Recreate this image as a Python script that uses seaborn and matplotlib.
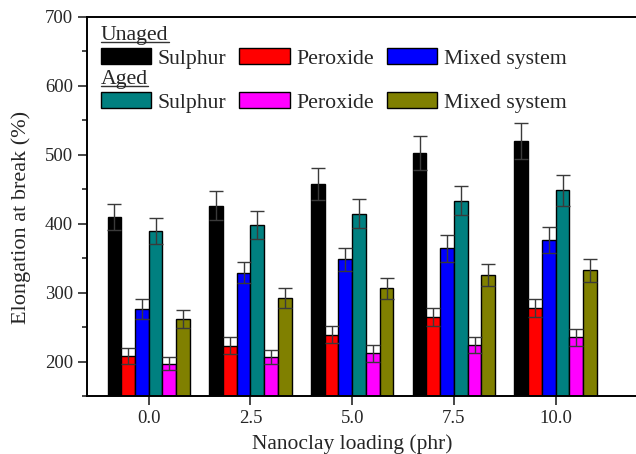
# coding: utf-8

import numpy as np
import pandas as pd
import matplotlib
matplotlib.use("Agg")
import matplotlib.pyplot as plt
from matplotlib.ticker import AutoMinorLocator
from matplotlib.patches import Patch
from matplotlib.lines import Line2D
import seaborn as sns

sns.set_style("ticks")
plt.rcParams['font.family'] = ['Liberation Serif', 'DejaVu Serif']

loadings = ['0.0', '2.5', '5.0', '7.5', '10.0']
series = ['Unaged Sulphur', 'Unaged Peroxide', 'Unaged Mixed system',
          'Aged Sulphur', 'Aged Peroxide', 'Aged Mixed system']
colors = ['#000000', '#ff0000', '#0000ff', '#008080', '#ff00ff', '#808000']

unaged_sulphur = [409, 426, 457, 502, 520]
unaged_peroxide = [208, 223, 239, 264, 277]
unaged_mixed = [276, 329, 348, 364, 376]
aged_sulphur = [389, 398, 414, 433, 448]
aged_peroxide = [197, 206, 212, 224, 235]
aged_mixed = [262, 292, 306, 325, 332]

unaged_sulphur_err = [19, 21, 23, 25, 26]
unaged_peroxide_err = [11, 12, 12, 13, 13]
unaged_mixed_err = [14, 15, 17, 19, 19]
aged_sulphur_err = [19, 20, 21, 21, 22]
aged_peroxide_err = [10, 10, 12, 11, 12]
aged_mixed_err = [13, 15, 15, 16, 16]

values = [unaged_sulphur, unaged_peroxide, unaged_mixed,
          aged_sulphur, aged_peroxide, aged_mixed]
errors = [unaged_sulphur_err, unaged_peroxide_err, unaged_mixed_err,
          aged_sulphur_err, aged_peroxide_err, aged_mixed_err]

rows = []
for s, vals in zip(series, values):
    for l, v in zip(loadings, vals):
        rows.append({'loading': l, 'series': s, 'elong': v})
df = pd.DataFrame(rows)

fig = plt.figure(figsize=(6.36, 4.54), dpi=100)
ax = fig.add_axes([86.7 / 636, 58 / 454, (650 - 86.7) / 636, 379.3 / 454])

sns.barplot(ax=ax, data=df, x='loading', y='elong', hue='series',
            order=loadings, hue_order=series, palette=colors,
            width=0.81, errorbar=None, edgecolor='black', linewidth=1,
            saturation=1, legend=False)

# error bars on top of each bar
for cont, errs in zip(ax.containers, errors):
    xs = [b.get_x() + b.get_width() / 2 for b in cont]
    hs = [b.get_height() for b in cont]
    ax.errorbar(xs, hs, yerr=errs, fmt='none', ecolor='#3a3a3a',
                elinewidth=1, capsize=5, capthick=1)

ax.set_ylim(150, 700)
ax.set_xlim(-0.61, 4.927)
ax.set_yticks([200, 300, 400, 500, 600, 700])
ax.yaxis.set_minor_locator(AutoMinorLocator(2))
ax.tick_params(axis='both', which='major', labelsize=13.5, length=6.5, width=1.2)
ax.tick_params(axis='y', which='minor', length=3.5, width=1.2)
ax.set_xlabel('Nanoclay loading (phr)', fontsize=15.5)
ax.set_ylabel('Elongation at break (%)', fontsize=16)
ax.xaxis.set_label_coords((352 - 86.7) / (650 - 86.7), -0.1)
ax.yaxis.set_label_coords(-0.098, 0.47)
for sp in ax.spines.values():
    sp.set_linewidth(1.4)
    sp.set_color('black')

# legend: two groups with underlined titles
def make_legend(title, cols, y):
    labels = ['Sulphur', 'Peroxide', 'Mixed system']
    handles = [Patch(facecolor=c, edgecolor='black', linewidth=1) for c in cols]
    leg = fig.legend(handles, labels, ncol=3, loc='upper left',
                     bbox_to_anchor=(101 / 636, 1 - y / 454),
                     frameon=False, fontsize=15.7, title=title,
                     title_fontsize=15.7, alignment='left',
                     handlelength=2.3, handleheight=0.72, handletextpad=0.3,
                     columnspacing=0.6, borderpad=0, borderaxespad=0,
                     labelspacing=0.15)
    return leg

legs = [make_legend('Unaged', colors[:3], 26),
        make_legend('Aged', colors[3:], 70)]

fig.canvas.draw()
for leg in legs:
    bb = leg.get_title().get_window_extent()
    yline = bb.y0 + 3
    fig.add_artist(Line2D([bb.x0 / 636, bb.x1 / 636],
                          [yline / 454, yline / 454],
                          color='#333333', linewidth=1))

fig.savefig('out.png', dpi=100)
